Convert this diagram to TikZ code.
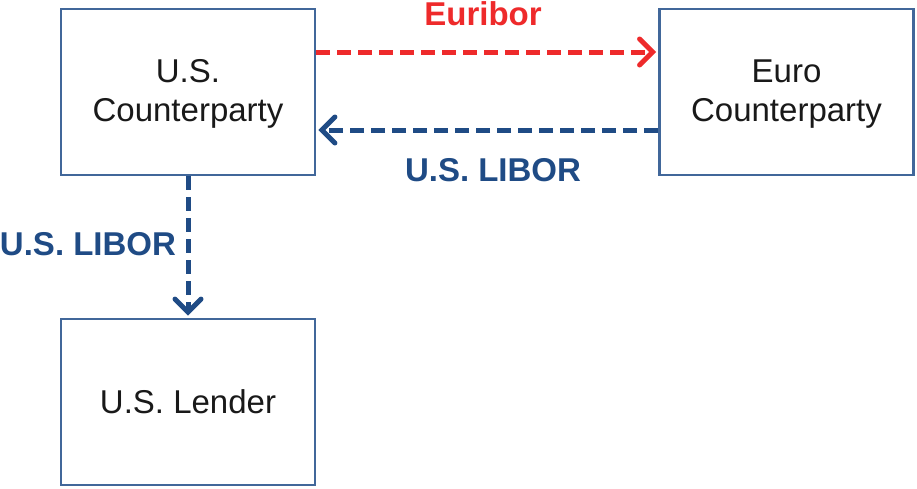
\documentclass[tikz,border=0pt]{standalone}
\usepackage{fontspec}
\setmainfont{Liberation Sans}
\usetikzlibrary{arrows.meta}
\definecolor{boxblue}{HTML}{41679A}
\definecolor{arrblue}{HTML}{1F4B85}
\definecolor{arrred}{HTML}{EE2A2B}
\begin{document}
\begin{tikzpicture}[x=1pt,y=-1pt,
  party/.style={draw=boxblue, line width=2.8pt, minimum width=254pt, minimum height=166pt, inner sep=0pt},
  ptext/.style={align=center, font=\fontsize{33}{39}\selectfont, text=black!90, inner sep=0pt},
  flow/.style={line width=5pt, dash pattern=on 14pt off 7pt, -{Straight Barb[length=13pt,width=26pt,line width=5pt,line cap=round]}},
  lbl/.style={font=\fontsize{33}{40}\selectfont\bfseries, inner sep=0pt}]
\useasboundingbox (0,0) rectangle (917,488);
\node[party] (usc) at (188,92) {};
\node[party] (euro) at (786.5,92) {};
\node[party] (lender) at (188,402) {};
\node[ptext] (usctext) at (188,94) {U.S.\\Counterparty};
\node[ptext] (eurotext) at (786.5,94) {Euro\\Counterparty};
\node[ptext] (lendertext) at (188,402) {U.S. Lender};
\draw[flow, arrred] ([yshift=40pt]usc.east) -- ([yshift=40pt,xshift=-2pt]euro.west);
\draw[flow, arrblue] ([yshift=-38pt]euro.west) -- ([yshift=-38pt,xshift=2pt]usc.east);
\draw[flow, arrblue] (usc.south) -- ([yshift=2pt]lender.north);
\node[lbl, text=arrred] (euribor) at (483,14) {Euribor};
\node[lbl, text=arrblue] (libor1) at (493,170) {U.S. LIBOR};
\node[lbl, text=arrblue] (libor2) at (88,244) {U.S. LIBOR};
\end{tikzpicture}
\end{document}
